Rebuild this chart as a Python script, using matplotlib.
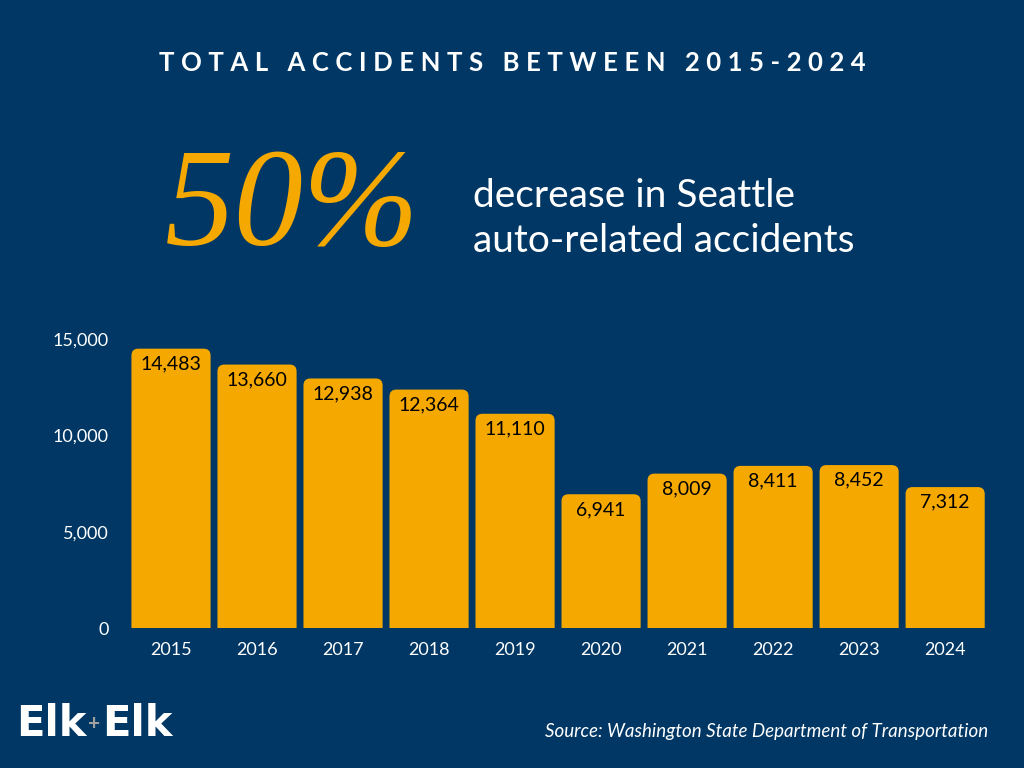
import matplotlib
matplotlib.use("Agg")
import matplotlib.pyplot as plt
from matplotlib.patches import FancyBboxPatch

years = ["2015", "2016", "2017", "2018", "2019", "2020", "2021", "2022", "2023", "2024"]
accidents = [14483, 13660, 12938, 12364, 11110, 6941, 8009, 8411, 8452, 7312]
yticks = [0, 5000, 10000, 15000]

bg = "#003764"
orange = "#F5A800"
plt.rcParams["font.family"] = "Lato"

fig = plt.figure(figsize=(10.24, 7.68), dpi=100, facecolor=bg)
ax = fig.add_axes([0.125, 0.182, 0.84, 0.377], facecolor=bg)
ax.set_xlim(-0.5, 9.5)
ax.set_ylim(0, 15000)

w = 0.92
aspect = (15000 / 289) / (10 / 860)
for i, v in enumerate(accidents):
    # start below zero so the lower rounded corners are clipped by the axes
    ax.add_patch(FancyBboxPatch((i - w / 2, -1000), w, v + 1000,
                                boxstyle="round,pad=0,rounding_size=0.08",
                                mutation_aspect=aspect, fc=orange, ec="none"))
    ax.text(i, v - 350, f"{v:,}", ha="center", va="top", fontsize=14, color="black")

ax.set_xticks(range(len(years)))
ax.set_xticklabels(years)
ax.set_yticks(yticks)
ax.set_yticklabels([f"{t:,}" for t in yticks])
ax.tick_params(colors="white", labelsize=13, length=0, pad=10)
ax.tick_params(axis="y", pad=14)
for s in ax.spines.values():
    s.set_visible(False)

title = "TOTAL ACCIDENTS BETWEEN 2015-2024"
fig.text(0.5, 0.918, "\u2009\u2009".join(title), ha="center", va="center", color="white",
         fontsize=18.5, fontweight="bold")
fig.text(0.285, 0.725, "50%", ha="center", va="center", color=orange, fontsize=100,
         family="Liberation Serif", style="italic")
fig.text(0.462, 0.745, "decrease in Seattle", ha="left", va="center", color="white", fontsize=28)
fig.text(0.462, 0.686, "auto-related accidents", ha="left", va="center", color="white", fontsize=28)
fig.text(0.016, 0.057, "Elk", ha="left", va="center", color="white", fontsize=30, fontweight="black",
         family="DejaVu Sans")
fig.text(0.092, 0.057, "+", ha="center", va="center", color="#a0a0a0", fontsize=15, fontweight="bold")
fig.text(0.1, 0.057, "Elk", ha="left", va="center", color="white", fontsize=30, fontweight="black",
         family="DejaVu Sans")
fig.text(0.965, 0.048, "Source: Washington State Department of Transportation", ha="right",
         va="center", color="white", fontsize=13.5, style="italic")

fig.savefig("out.png", facecolor=bg)
